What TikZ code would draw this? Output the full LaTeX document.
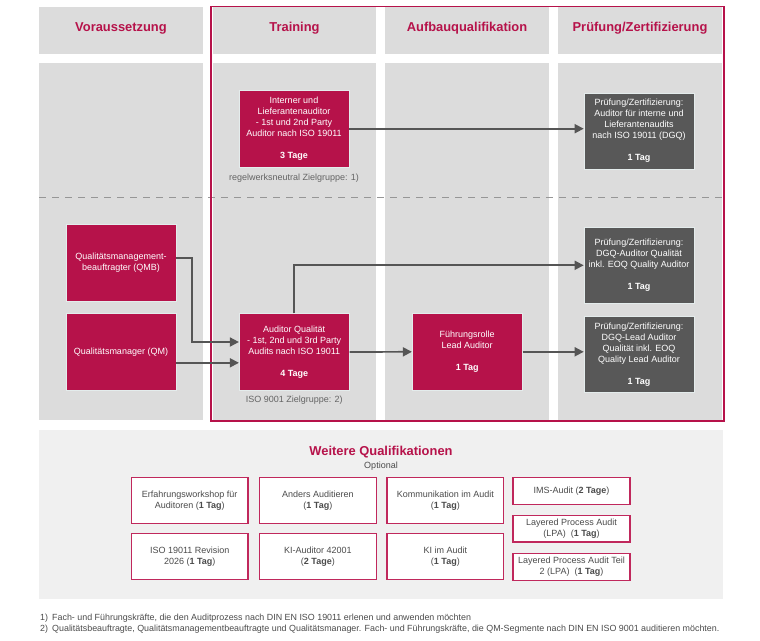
\documentclass[tikz,border=0pt]{standalone}
\usepackage{fontspec}
\setmainfont{Liberation Sans}
\usetikzlibrary{arrows.meta,calc}
\definecolor{crim}{RGB}{182,18,74}
\definecolor{qborder}{RGB}{192,40,92}
\definecolor{colgray}{RGB}{220,220,220}
\definecolor{darkbox}{RGB}{88,88,88}
\definecolor{arrowgray}{RGB}{85,85,85}
\definecolor{panelgray}{RGB}{240,240,240}
\definecolor{txtgray}{RGB}{100,100,100}
\definecolor{qtext}{RGB}{75,75,75}
\definecolor{dashgray}{RGB}{150,150,150}
\definecolor{edgecol}{RGB}{228,236,236}
\begin{document}
\begin{tikzpicture}[x=1pt,y=-1pt,
  colbg/.style={fill=colgray,draw=none,anchor=north west,inner sep=0pt},
  hdr/.style={font=\fontsize{12.9}{14}\selectfont\bfseries,text=crim,anchor=base,inner sep=0pt},
  redbox/.style={fill=crim,draw=edgecol,line width=0.6pt,text=white,font=\fontsize{9}{11}\selectfont,align=center,inner sep=0pt,minimum width=110pt,minimum height=76.5pt},
  greybox/.style={fill=darkbox,draw=edgecol,line width=0.6pt,text=white,font=\fontsize{9}{11}\selectfont,align=center,inner sep=0pt,minimum width=110pt,minimum height=76pt},
  conn/.style={draw=arrowgray,line width=1.7pt,-{Triangle[length=9pt,width=9pt]}},
  note/.style={font=\fontsize{9}{11}\selectfont,text=txtgray,anchor=base,inner sep=0pt},
  qbox/.style={fill=white,draw=qborder,line width=1.3pt,text=qtext,font=\fontsize{9}{10.7}\selectfont,align=center,inner sep=0pt,minimum width=116.8pt},
  foot/.style={font=\fontsize{8.9}{10}\selectfont,text=qtext,anchor=base west,inner sep=0pt},
]
\useasboundingbox (0,0) rectangle (760,640);
% header cells
\node[colbg,minimum width=164pt,minimum height=47pt] (h1) at (39,7) {};
\node[colbg,minimum width=163pt,minimum height=47pt] (h2) at (213,7) {};
\node[colbg,minimum width=164pt,minimum height=47pt] (h3) at (385,7) {};
\node[colbg,minimum width=164pt,minimum height=47pt] (h4) at (558,7) {};
% body columns
\node[colbg,minimum width=164pt,minimum height=357pt] (c1) at (39,63) {};
\node[colbg,minimum width=163pt,minimum height=357pt] (c2) at (213,63) {};
\node[colbg,minimum width=164pt,minimum height=357pt] (c3) at (385,63) {};
\node[colbg,minimum width=164pt,minimum height=357pt] (c4) at (558,63) {};
% header texts
\node[hdr] (t1) at (121,31.7) {Voraussetzung};
\node[hdr] (t2) at (294.5,31.7) {Training};
\node[hdr] (t3) at (467,31.7) {Aufbauqualifikation};
\node[hdr] (t4) at (640,31.7) {Prüfung/Zertifizierung};
% dashed separator
\coordinate (dl) at (39,197.3);
\coordinate (dr) at (722,197.3);
\draw[dashgray,line width=1.5pt,dash pattern=on 7pt off 6pt] (dl) -- (dr);
% red frame
\draw[crim,line width=1.8pt] (211,6.5) rectangle (724,421);
% boxes
\node[redbox] (int) at (294,128.7) {Interner und\\Lieferantenauditor\\- 1st und 2nd Party\\Auditor nach ISO 19011\\[11pt]\textbf{3 Tage}};
\node[note] (n1) at (294,180) {regelwerksneutral Zielgruppe: 1)};
\node[greybox] (p1) at (639,131) {Prüfung/Zertifizierung:\\Auditor für interne und\\Lieferantenaudits\\nach ISO 19011 (DGQ)\\[11pt]\textbf{1 Tag}};
\node[redbox] (qmb) at (121,262.7) {Qualitätsmanagement-\\beauftragter (QMB)};
\node[redbox] (qm) at (121,351.8) {Qualitätsmanager (QM)};
\node[redbox] (aud) at (294.2,352) {Auditor Qualität\\- 1st, 2nd und 3rd Party\\Audits nach ISO 19011\\[11pt]\textbf{4 Tage}};
\node[note] (n2) at (294.2,402.5) {ISO 9001 Zielgruppe: 2)};
\node[redbox] (fr) at (467.2,351.8) {Führungsrolle\\Lead Auditor\\[11pt]\textbf{1 Tag}};
\node[greybox] (p2) at (639,265.3) {Prüfung/Zertifizierung:\\DGQ-Auditor Qualität\\inkl. EOQ Quality Auditor\\[11pt]\textbf{1 Tag}};
\node[greybox] (p3) at (639,354.5) {Prüfung/Zertifizierung:\\DGQ-Lead Auditor\\Qualität inkl. EOQ\\Quality Lead Auditor\\[11pt]\textbf{1 Tag}};
% connectors
\coordinate (qmbout) at ([yshift=5pt]qmb.east);
\coordinate (audin1) at ([yshift=10pt]aud.west);
\coordinate (qmout) at ([yshift=-11pt]qm.east);
\draw[conn] (int.east) -- (int.east -| p1.west);
\draw[conn] (qmbout) -- ++(16,0) |- (audin1);
\draw[conn] (qmout) -- (qmout -| aud.west);
\draw[conn] (aud.north) |- (p2.west);
\draw[conn] (aud.east) -- (fr.west);
\draw[conn] (fr.east) -- (fr.east -| p3.west);
% bottom panel
\node[fill=panelgray,draw=none,anchor=north west,inner sep=0pt,minimum width=684pt,minimum height=169.5pt] (panel) at (39,429.5) {};
\node[font=\fontsize{12.9}{14}\selectfont\bfseries,text=crim,anchor=base,inner sep=0pt] (wq) at (381,455.5) {Weitere Qualifikationen};
\node[font=\fontsize{9}{10}\selectfont,text=qtext,anchor=base,inner sep=0pt] (opt) at (381,468.3) {Optional};
\node[qbox,minimum height=46pt] (b1) at (189.7,500.35) {Erfahrungsworkshop für\\Auditoren (\textbf{1 Tag})};
\node[qbox,minimum height=46pt] (b2) at (317.85,500.35) {Anders Auditieren\\(\textbf{1 Tag})};
\node[qbox,minimum height=46pt] (b3) at (445.35,500.35) {Kommunikation im Audit\\(\textbf{1 Tag})};
\node[qbox,minimum height=27pt] (b4) at (571.5,490.85) {IMS-Audit (\textbf{2 Tage})};
\node[qbox,minimum height=46pt] (b5) at (189.7,556.8) {ISO 19011 Revision\\2026 (\textbf{1 Tag})};
\node[qbox,minimum height=46pt] (b6) at (317.85,556.8) {KI-Auditor 42001\\(\textbf{2 Tage})};
\node[qbox,minimum height=46pt] (b7) at (445.35,556.8) {KI im Audit\\(\textbf{1 Tag})};
\node[qbox,minimum height=26.5pt] (b8) at (571.5,528.85) {Layered Process Audit\\(LPA)\ \ (\textbf{1 Tag})};
\node[qbox,minimum height=27pt] (b9) at (571.5,566.7) {Layered Process Audit Teil\\2 (LPA)\ \ (\textbf{1 Tag})};
% footnotes
\node[foot] (f1n) at (40,620.5) {1)};
\node[foot] (f1) at (52,620.5) {Fach- und Führungskräfte, die den Auditprozess nach DIN EN ISO 19011 erlenen und anwenden möchten};
\node[foot] (f2n) at (40,631.5) {2)};
\node[foot] (f2) at (52,631.5) {Qualitätsbeauftragte, Qualitätsmanagementbeauftragte und Qualitätsmanager. Fach- und Führungskräfte, die QM-Segmente nach DIN EN ISO 9001 auditieren möchten.};
\end{tikzpicture}
\end{document}
